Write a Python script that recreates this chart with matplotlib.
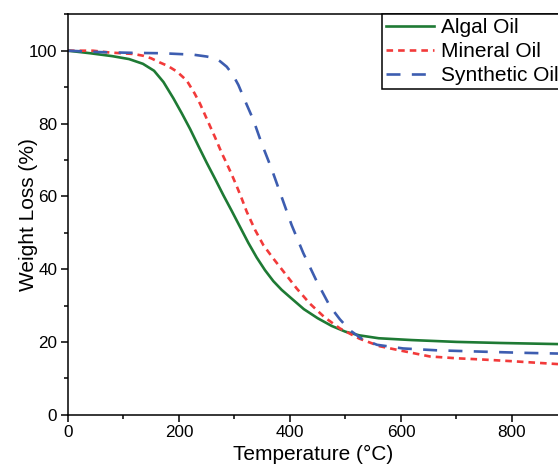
import matplotlib
matplotlib.use("Agg")
import matplotlib.pyplot as plt
from matplotlib.ticker import MultipleLocator

plt.rcParams['font.family'] = ['Liberation Sans', 'DejaVu Sans']

# Algal oil (solid green)
algal_temp = [0, 40, 80, 110, 135, 155, 172, 190, 205, 220, 235, 250, 265, 280, 295,
              310, 325, 340, 355, 370, 385, 400, 425, 450, 475, 500, 525, 560, 620,
              700, 780, 883]
algal_oil = [100, 99.3, 98.5, 97.7, 96.4, 94.5, 91.4, 86.9, 82.8, 78.5, 73.8, 69.2,
             64.8, 60.3, 56.0, 51.6, 47.2, 43.2, 39.7, 36.7, 34.3, 32.3, 29.0, 26.5,
             24.4, 22.8, 21.8, 21.0, 20.5, 20.0, 19.7, 19.4]

# Mineral oil (short dashes, red)
mineral_temp = [0, 45, 75, 118, 136, 150, 165, 180, 196, 214, 228, 238, 250, 265, 277,
                286, 295, 304, 313, 322, 337, 352, 370, 388, 412, 436, 462, 490, 525,
                562, 600, 652, 700, 742, 800, 883]
mineral_oil = [100, 100, 99.5, 99.1, 98.6, 97.9, 96.8, 95.8, 94.3, 91.8, 88.3, 85.4,
               81.3, 76.2, 71.9, 69.0, 66.0, 62.8, 59.4, 55.8, 50.8, 46.6, 42.9, 39.4,
               34.7, 30.5, 26.8, 23.7, 20.9, 18.8, 17.6, 16.0, 15.5, 15.2, 14.7, 13.9]

# Synthetic oil (long dashes, blue)
synthetic_temp = [0, 60, 120, 170, 226, 250, 265, 274, 286, 297, 307, 322, 334, 349,
                  367, 385, 403, 424, 448, 472, 490, 508, 530, 557, 604, 663, 750, 820,
                  883]
synthetic_oil = [100, 99.6, 99.4, 99.3, 98.9, 98.4, 97.9, 97.1, 95.6, 93.4, 90.6, 85.2,
                 81.0, 74.5, 67.5, 59.8, 52.1, 44.4, 36.7, 29.8, 26.2, 23.2, 20.8, 19.2,
                 18.2, 17.7, 17.3, 17.0, 16.8]

labels = ["Algal Oil", "Mineral Oil", "Synthetic Oil"]
x_ticks = [0, 200, 400, 600, 800]
y_ticks = [0, 20, 40, 60, 80, 100]

fig = plt.figure(figsize=(5.58, 4.66), dpi=100)
ax = fig.add_axes([68/558, 1 - 414.7/466, 1 - 68/558, (414.7 - 14.3)/466])

lw = 1.9
ax.plot(algal_temp, algal_oil, color='#1e7a34', lw=lw, label=labels[0])
ax.plot(mineral_temp, mineral_oil, color='#f23a3a', lw=lw, dashes=(2.5, 1.9), label=labels[1])
ax.plot(synthetic_temp, synthetic_oil, color='#3d5db0', lw=lw, dashes=(5.3, 4.3), label=labels[2])

ax.set_xlim(0, 883)
ax.set_ylim(0, 110)
ax.set_xticks(x_ticks)
ax.set_yticks(y_ticks)
ax.xaxis.set_minor_locator(MultipleLocator(100))
ax.yaxis.set_minor_locator(MultipleLocator(10))
ax.tick_params(which='major', direction='out', length=5.2, width=1.1, labelsize=12.3, pad=2.5,
               top=False, right=False)
ax.tick_params(which='minor', direction='out', length=3, width=1.1, top=False, right=False)
ax.spines['right'].set_visible(False)
for s in ['left', 'bottom', 'top']:
    ax.spines[s].set_linewidth(1.1)

ax.set_xlabel('Temperature (°C)', fontsize=15, labelpad=3)
ax.set_ylabel('Weight Loss (%)', fontsize=15)
ax.yaxis.set_label_coords(-0.061, 0.5)

leg = ax.legend(loc='upper left', bbox_to_anchor=(382/558, 1 - 14/466),
                bbox_transform=fig.transFigure, fontsize=15, frameon=True,
                fancybox=False, framealpha=1, edgecolor='black', borderpad=0.2,
                labelspacing=0.24, handlelength=2.3, handletextpad=0.32, borderaxespad=0)
leg.get_frame().set_linewidth(1.1)

fig.savefig('out.png', dpi=100)
